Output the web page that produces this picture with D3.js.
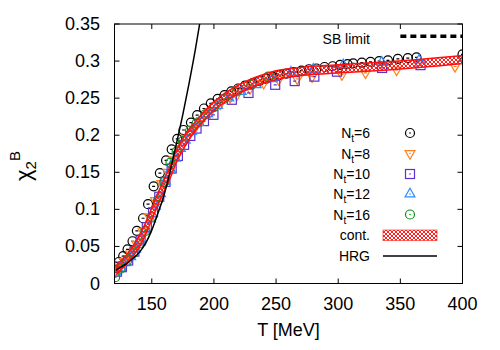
<!DOCTYPE html>
<html>
<head>
<meta charset="utf-8">
<script src="https://cdn.jsdelivr.net/npm/d3@7"></script>
<style>
  body { margin: 0; background: #fff; }
  svg { display: block; font-family: "Liberation Sans", Arial, sans-serif; }
</style>
</head>
<body>
<div id="chart"></div>
<script>
// chi_2^B vs T: lattice points for several N_t, continuum band and HRG curve.
const nt6T = [120, 123.5, 127, 130.5, 134.5, 138, 143, 147, 151.5, 156.5, 161.5, 166, 170.5, 175.5, 181.5, 186.5, 192, 197.5,
  203, 208.5, 214, 219.5, 225, 231, 236.5, 242, 247.5, 253, 258.5, 264, 270.5, 276.5, 282.5, 289, 295.5, 301.5, 307.5, 312,
  319, 326, 333, 340, 348, 356, 363, 400];
const nt6V = [0.023, 0.029, 0.037, 0.046, 0.057, 0.071, 0.088, 0.107, 0.131, 0.149, 0.166, 0.181, 0.195, 0.207, 0.217, 0.227, 0.236, 0.243,
  0.249, 0.254, 0.259, 0.263, 0.267, 0.270, 0.273, 0.276, 0.279, 0.281, 0.283, 0.285, 0.287, 0.289, 0.290, 0.292, 0.293, 0.295, 0.296, 0.297,
  0.298, 0.299, 0.300, 0.301, 0.303, 0.304, 0.305, 0.309];

const nt8T = [123, 128, 133, 138, 143, 148, 153, 158, 163, 168, 173, 178, 184, 190, 197, 205, 213, 218.5, 229, 240, 252, 267, 279, 303, 322, 347, 394];
const nt8V = [0.022, 0.030, 0.040, 0.053, 0.070, 0.090, 0.112, 0.135, 0.150, 0.167, 0.182, 0.196, 0.208, 0.220, 0.231, 0.242, 0.251, 0.2545,
  0.263, 0.270, 0.275, 0.276, 0.279, 0.2816, 0.284, 0.288, 0.2927];

const nt10T = [122, 126, 131, 136, 141, 146, 151, 156, 161, 166, 171, 176, 181, 186, 192, 199.6, 214.4, 227.8, 249.3, 265, 280.8, 299, 335.3, 366.2];
const nt10V = [0.016, 0.022, 0.031, 0.043, 0.058, 0.076, 0.096, 0.117, 0.137, 0.155, 0.172, 0.187, 0.199, 0.209, 0.219, 0.2275, 0.2478, 0.257,
  0.268, 0.273, 0.279, 0.2857, 0.2907, 0.2945];

const nt12T = [121, 125, 129, 133, 137, 141, 145, 149, 153, 157, 161, 165, 169, 173, 177, 182, 188, 195, 203, 212, 222, 234, 247, 262, 280, 304, 335, 365];
const nt12V = [0.015, 0.021, 0.028, 0.036, 0.046, 0.058, 0.072, 0.087, 0.104, 0.121, 0.138, 0.154, 0.169, 0.182, 0.193, 0.205, 0.217, 0.229,
  0.240, 0.250, 0.259, 0.268, 0.276, 0.285, 0.289, 0.295, 0.2985, 0.301];

const nt16T = [120.5, 125, 130, 135, 140, 145, 150, 155, 160, 165, 170, 175, 180.8, 186, 193, 200, 208, 218.5, 230, 243.7];
const nt16V = [0.0085, 0.020, 0.030, 0.041, 0.054, 0.071, 0.090, 0.112, 0.137, 0.163, 0.178, 0.192, 0.206, 0.216, 0.228, 0.238, 0.249, 0.259, 0.268, 0.279];

// continuum extrapolation band
const contT  = [122, 126, 130, 135, 140, 145, 150, 155, 160, 165, 170, 175, 180, 185, 190, 195, 200, 210, 220, 230, 240, 250, 260, 270, 280, 290, 300, 320, 340, 360, 380, 400];
const contLo = [0.013, 0.020, 0.027, 0.037, 0.049, 0.066, 0.086, 0.106, 0.125, 0.143, 0.164, 0.180, 0.194, 0.206, 0.216, 0.225, 0.233, 0.246, 0.256, 0.264, 0.270, 0.275, 0.2785, 0.2805, 0.282, 0.283, 0.284, 0.286, 0.288, 0.2905, 0.2935, 0.2965];
const contHi = [0.025, 0.032, 0.039, 0.051, 0.065, 0.082, 0.102, 0.122, 0.141, 0.159, 0.180, 0.196, 0.208, 0.218, 0.228, 0.237, 0.245, 0.258, 0.268, 0.276, 0.282, 0.287, 0.2895, 0.2915, 0.293, 0.294, 0.295, 0.297, 0.299, 0.3015, 0.3045, 0.3075];

const hrgT = [121, 125, 130, 135, 140, 145, 150, 155, 160, 165, 170, 175, 180, 185, 189];
const hrgV = [0.018, 0.022, 0.027, 0.034, 0.042, 0.054, 0.072, 0.095, 0.120, 0.153, 0.190, 0.228, 0.270, 0.315, 0.355];

const sbLimit = 1 / 3;
const xTicks = [150, 200, 250, 300, 350, 400];
const yTicks = [0, 0.05, 0.1, 0.15, 0.2, 0.25, 0.3, 0.35];

const width = 500, height = 350;
const plotLeft = 114.5, plotRight = 462.5, plotTop = 24, plotBottom = 283.5;

const x = d3.scaleLinear().domain([120, 400]).range([plotLeft, plotRight]);
const y = d3.scaleLinear().domain([0, 0.35]).range([plotBottom, plotTop]);

const svg = d3.select("#chart").append("svg")
  .attr("width", width).attr("height", height);

const defs = svg.append("defs");
defs.append("clipPath").attr("id", "plotClip")
  .append("rect").attr("x", plotLeft).attr("y", plotTop)
  .attr("width", plotRight - plotLeft).attr("height", plotBottom - plotTop);

const hatch = defs.append("pattern").attr("id", "hatch")
  .attr("patternUnits", "userSpaceOnUse").attr("width", 4).attr("height", 4);
hatch.append("path").attr("d", "M0,0 L4,4 M4,0 L0,4 M-1,3 L1,5 M3,-1 L5,1 M-1,1 L1,-1 M3,5 L5,3")
  .attr("stroke", "#ff2020").attr("stroke-width", 1);

// axes: ticks inward on all four sides
const tickLen = 5;
const axes = svg.append("g").attr("stroke", "#000").attr("stroke-width", 1);
xTicks.forEach(t => {
  axes.append("line").attr("x1", x(t)).attr("x2", x(t)).attr("y1", plotBottom).attr("y2", plotBottom - tickLen);
  axes.append("line").attr("x1", x(t)).attr("x2", x(t)).attr("y1", plotTop).attr("y2", plotTop + tickLen);
});
yTicks.forEach(v => {
  axes.append("line").attr("x1", plotLeft).attr("x2", plotLeft + tickLen).attr("y1", y(v)).attr("y2", y(v));
  axes.append("line").attr("x1", plotRight).attr("x2", plotRight - tickLen).attr("y1", y(v)).attr("y2", y(v));
});

svg.append("g").selectAll("text").data(xTicks).join("text")
  .attr("x", d => x(d)).attr("y", 310)
  .attr("text-anchor", "middle").attr("font-size", 18)
  .text(d => d);
svg.append("g").selectAll("text").data(yTicks).join("text")
  .attr("x", 100).attr("y", d => y(d) + 6)
  .attr("text-anchor", "end").attr("font-size", 18)
  .text(d => d);

svg.append("text").attr("x", (plotLeft + plotRight) / 2).attr("y", 336)
  .attr("text-anchor", "middle").attr("font-size", 18).text("T [MeV]");

const yLabel = svg.append("text")
  .attr("transform", "translate(31,181) rotate(-90)")
  .attr("font-size", 22);
yLabel.append("tspan").text("χ");
yLabel.append("tspan").attr("font-size", 15).attr("dy", 5).text("2");
yLabel.append("tspan").attr("font-size", 15).attr("dy", -16).text("B");

// marker drawing
const series = [
  { T: nt6T, V: nt6V, color: "#000000", shape: "circle", label: "6" },
  { T: nt8T, V: nt8V, color: "#ff8020", shape: "down", label: "8" },
  { T: nt10T, V: nt10V, color: "#5a30d0", shape: "square", label: "10" },
  { T: nt12T, V: nt12V, color: "#2f8cff", shape: "up", label: "12" },
  { T: nt16T, V: nt16V, color: "#10901a", shape: "circle", label: "16" }
];

function drawMarker(g, cx, cy, s, centerDot) {
  if (s.shape === "circle") {
    g.append("circle").attr("cx", cx).attr("cy", cy).attr("r", 4.5);
  } else if (s.shape === "square") {
    g.append("rect").attr("x", cx - 4.5).attr("y", cy - 4.5).attr("width", 9).attr("height", 9);
  } else {
    const sym = d3.symbol().type(d3.symbolTriangle).size(42)();
    g.append("path").attr("d", sym)
      .attr("transform", `translate(${cx},${cy})${s.shape === "down" ? " rotate(180)" : ""}`);
  }
  if (centerDot) {
    g.append("circle").attr("cx", cx).attr("cy", cy).attr("r", 0.8).attr("fill", s.color).attr("stroke", "none");
  } else {
    g.append("line").attr("x1", cx - 1.5).attr("x2", cx + 1.5).attr("y1", cy).attr("y2", cy);
  }
}

const plot = svg.append("g").attr("clip-path", "url(#plotClip)");

series.forEach(s => {
  const g = plot.append("g").attr("fill", "none").attr("stroke", s.color).attr("stroke-width", 1.2);
  s.T.forEach((t, i) => drawMarker(g, x(t), y(s.V[i]), s, false));
});

const band = d3.area()
  .x((d, i) => x(contT[i]))
  .y0((d, i) => y(contLo[i]))
  .y1((d, i) => y(contHi[i]))
  .curve(d3.curveMonotoneX);
plot.append("path").attr("d", band(contT))
  .attr("fill", "url(#hatch)").attr("stroke", "#ff1010").attr("stroke-width", 1.5);

const hrgLine = d3.line()
  .x((d, i) => x(hrgT[i]))
  .y((d, i) => y(hrgV[i]))
  .curve(d3.curveMonotoneX);
plot.append("path").attr("d", hrgLine(hrgT))
  .attr("fill", "none").attr("stroke", "#000").attr("stroke-width", 1.5);

// SB limit
svg.append("line")
  .attr("x1", x(350)).attr("x2", x(400)).attr("y1", y(sbLimit)).attr("y2", y(sbLimit))
  .attr("stroke", "#000").attr("stroke-width", 3.5).attr("stroke-dasharray", "6,4");
svg.append("text").attr("x", 370).attr("y", y(sbLimit) + 8)
  .attr("text-anchor", "end").attr("font-size", 14).text("SB limit");

// frame
svg.append("rect").attr("x", plotLeft).attr("y", plotTop)
  .attr("width", plotRight - plotLeft).attr("height", plotBottom - plotTop)
  .attr("fill", "none").attr("stroke", "#000").attr("stroke-width", 1);

// legend
const legendX = 370, symX = 410;
const rowY = [133, 153.5, 174, 194, 214.5, 235, 256];
series.forEach((s, i) => {
  const t = svg.append("text").attr("x", legendX).attr("y", rowY[i] + 5)
    .attr("text-anchor", "end").attr("font-size", 14);
  t.append("tspan").text("N");
  t.append("tspan").attr("font-size", 10).attr("dy", 4).text("t");
  t.append("tspan").attr("dy", -4).text("=" + s.label);
  const g = svg.append("g").attr("fill", "none").attr("stroke", s.color).attr("stroke-width", 1.2);
  drawMarker(g, symX, rowY[i], s, true);
});
svg.append("text").attr("x", legendX).attr("y", rowY[5] + 5)
  .attr("text-anchor", "end").attr("font-size", 14).text("cont.");
svg.append("rect").attr("x", 383).attr("y", rowY[5] - 5).attr("width", 54).attr("height", 10.5)
  .attr("fill", "url(#hatch)").attr("stroke", "#ff1010").attr("stroke-width", 1).attr("stroke-opacity", 0.6);
svg.append("text").attr("x", legendX).attr("y", rowY[6] + 5)
  .attr("text-anchor", "end").attr("font-size", 14).text("HRG");
svg.append("line").attr("x1", 383).attr("x2", 437).attr("y1", rowY[6]).attr("y2", rowY[6])
  .attr("stroke", "#000").attr("stroke-width", 1.5);
</script>
</body>
</html>
